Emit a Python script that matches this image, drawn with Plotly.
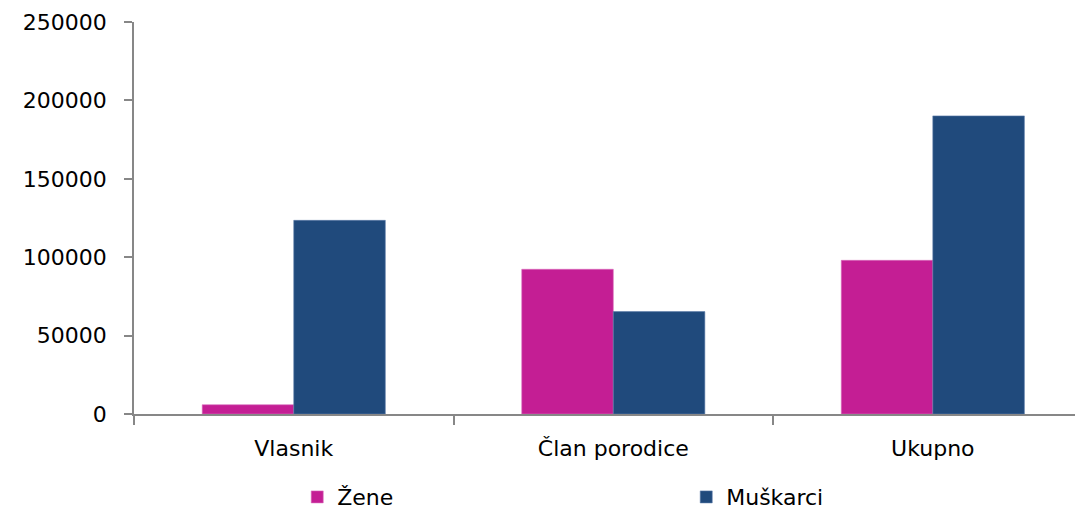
import plotly.graph_objects as go

categories = ["Vlasnik", "Član porodice", "Ukupno"]
zene = [5900, 92300, 98000]
muskarci = [123500, 65300, 190100]
series_names = ["Žene", "Muškarci"]
y_ticks = [0, 50000, 100000, 150000, 200000, 250000]

PINK = "#C41E94"
NAVY = "#204A7C"
AXIS = "#878787"
FONT = "DejaVu Sans"
FS = 22

fig = go.Figure()
fig.add_trace(go.Bar(x=categories, y=zene, name=series_names[0],
                     marker=dict(color=PINK, line=dict(width=0.6, color="#d86cbc"))))
fig.add_trace(go.Bar(x=categories, y=muskarci, name=series_names[1],
                     marker=dict(color=NAVY, line=dict(width=0.6, color="#5a7aa8"))))

# page body has an 8px margin: figure sized to fit the 1083x509 window
fig.update_layout(
    width=1075, height=501,
    margin=dict(l=126, r=0, t=14, b=95, autoexpand=False),
    paper_bgcolor="white", plot_bgcolor="white",
    barmode="group", bargap=0.427, bargroupgap=0,
    font=dict(family=FONT, size=FS, color="#000000"),
    showlegend=True,
    legend=dict(orientation="h", x=0.172, xanchor="left", y=-0.212, yanchor="middle",
                entrywidth=344, entrywidthmode="pixels",
                font=dict(family=FONT, size=FS, color="#000000"),
                bgcolor="rgba(0,0,0,0)"),
)
fig.update_xaxes(
    type="category", range=[-0.5, 2.47], automargin=False,
    showline=True, linecolor=AXIS, linewidth=1.5,
    ticks="outside", tickson="boundaries", ticklen=9, tickcolor=AXIS, tickwidth=1.5,
    showgrid=False, zeroline=False, ticklabelstandoff=14,
    tickfont=dict(family=FONT, size=FS, color="#000000"),
)
fig.update_yaxes(
    range=[0, 250000], tickvals=y_ticks, ticktext=[str(v) for v in y_ticks],
    automargin=False,
    showline=True, linecolor=AXIS, linewidth=1.5,
    ticks="outside", ticklen=8, tickcolor=AXIS, tickwidth=1.5,
    showgrid=False, zeroline=False, ticklabelstandoff=13,
    tickfont=dict(family=FONT, size=FS, color="#000000"),
)

fig.write_html("out.html")
